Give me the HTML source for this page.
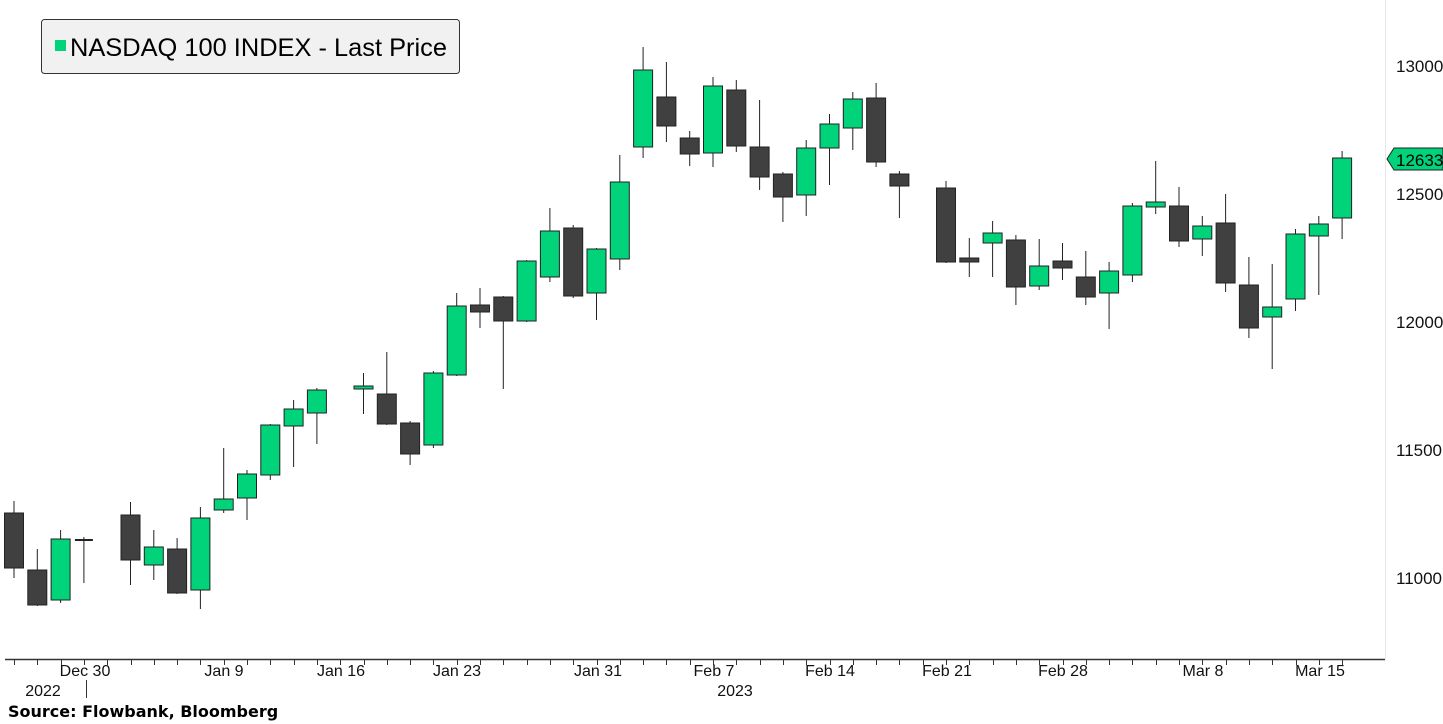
<!DOCTYPE html>
<html><head><meta charset="utf-8"><style>
body{margin:0;background:#fff;}
svg{display:block;font-family:"Liberation Sans","DejaVu Sans",sans-serif;}
</style></head><body>
<svg id="c" width="1443" height="724" viewBox="0 0 1443 724" xmlns="http://www.w3.org/2000/svg">
<rect width="1443" height="724" fill="#fff"/>
<line x1="1385.5" y1="0" x2="1385.5" y2="659" stroke="#e8e8e8" stroke-width="1"/>
<g id="candles"></g>
<line x1="5" y1="659.5" x2="1385" y2="659.5" stroke="#333" stroke-width="1.5"/>
<g id="ticks" stroke="#333" stroke-width="1"></g>
<line x1="86.5" y1="680" x2="86.5" y2="698" stroke="#333" stroke-width="1"/>
<g font-size="16" fill="#111" text-anchor="middle">
<text x="85" y="676">Dec 30</text>
<text x="224" y="676">Jan 9</text>
<text x="341" y="676">Jan 16</text>
<text x="457" y="676">Jan 23</text>
<text x="598" y="676">Jan 31</text>
<text x="714" y="676">Feb 7</text>
<text x="830" y="676">Feb 14</text>
<text x="947" y="676">Feb 21</text>
<text x="1063" y="676">Feb 28</text>
<text x="1203" y="676">Mar 8</text>
<text x="1320" y="676">Mar 15</text>
<text x="43" y="696">2022</text>
<text x="735" y="696">2023</text>
</g>
<text x="8" y="717" font-size="16" font-weight="bold" fill="#000" font-family="DejaVu Sans, sans-serif">Source:  Flowbank, Bloomberg</text>
<g font-size="17" fill="#111">
<text x="1396" y="72">13000</text>
<text x="1396" y="200">12500</text>
<text x="1396" y="328">12000</text>
<text x="1396" y="456">11500</text>
<text x="1396" y="584">11000</text>
</g>
<polygon points="1387,159 1394,148 1443,148 1443,170 1394,170" fill="#00d37a" stroke="#222" stroke-width="1"/>
<text x="1396" y="166" font-size="17" fill="#000">12633</text>
<rect x="41.5" y="19.5" width="418" height="54" rx="3" fill="#f1f1f1" stroke="#333" stroke-width="1"/>
<rect x="55" y="40" width="11" height="11" fill="#00d37a"/>
<text x="70" y="56" font-size="25" fill="#000" textLength="377" lengthAdjust="spacingAndGlyphs">NASDAQ 100 INDEX - Last Price</text>
</svg>
<script>
var d=[
[0,'d',513,568,501,578],[1,'d',570,605,549,606],[2,'g',539,600,530,603],[3,'x',539,541,537,583],
[5,'d',515,560,502,585],[6,'g',547,565,530,580],[7,'d',549,593,538,594],[8,'g',518,590,507,609],
[9,'g',499,510,448,513],[10,'g',474,498,470,520],[11,'g',425,475,424,480],[12,'g',409,426,400,467],
[13,'g',390,413,388,444],[15,'g',386,389,373,414],[16,'d',394,424,352,425],[17,'d',423,454,421,465],
[18,'g',373,445,371,448],[19,'g',306,375,293,376],[20,'d',305,312,288,328],[21,'d',297,321,296,389],
[22,'g',261,321,260,322],[23,'g',231,277,208,282],[24,'d',228,296,225,298],[25,'g',249,293,248,320],
[26,'g',182,259,155,270],[27,'g',70,147,47,158],[28,'d',97,126,62,142],[29,'d',138,154,131,166],
[30,'g',86,153,77,167],[31,'d',90,146,80,152],[32,'d',147,177,100,190],[33,'d',174,197,172,222],
[34,'g',148,195,140,216],[35,'g',124,148,114,185],[36,'g',99,128,92,150],[37,'d',98,162,83,167],
[38,'d',174,186,171,218],[40,'d',188,262,181,263],[41,'d',258,262,238,277],[42,'g',233,243,221,277],
[43,'d',240,287,235,305],[44,'g',266,286,239,290],[45,'d',261,268,243,280],[46,'d',277,297,251,305],
[47,'g',271,293,262,329],[48,'g',206,275,203,282],[49,'g',202,207,161,214],[50,'d',206,241,187,247],
[51,'g',226,239,216,256],[52,'d',223,283,194,292],[53,'d',285,328,257,338],[54,'g',307,317,264,369],
[55,'g',234,299,229,311],[56,'g',224,236,216,295],[57,'g',158,218,151,239]];
var ns="http://www.w3.org/2000/svg",g=document.getElementById('candles'),t=document.getElementById('ticks');
function el(n,a,p){var e=document.createElementNS(ns,n);for(var k in a)e.setAttribute(k,a[k]);p.appendChild(e);}
d.forEach(function(c){var x=14+c[0]*23.3;
el('line',{x1:x,x2:x,y1:c[4],y2:c[5],stroke:'#222','stroke-width':1},g);
if(c[1]=='x'){el('line',{x1:x-9,x2:x+9,y1:c[2]+1,y2:c[2]+1,stroke:'#222','stroke-width':2},g);}
else el('rect',{x:x-9.5,y:c[2],width:19,height:Math.max(2,c[3]-c[2]),fill:c[1]=='g'?'#00d37a':'#404040',stroke:'#222','stroke-width':1},g);});
for(var i=0;i<58;i++){var x=Math.round(14+i*23.3)+0.5;el('line',{x1:x,x2:x,y1:660,y2:665},t);}
</script>
</body></html>
